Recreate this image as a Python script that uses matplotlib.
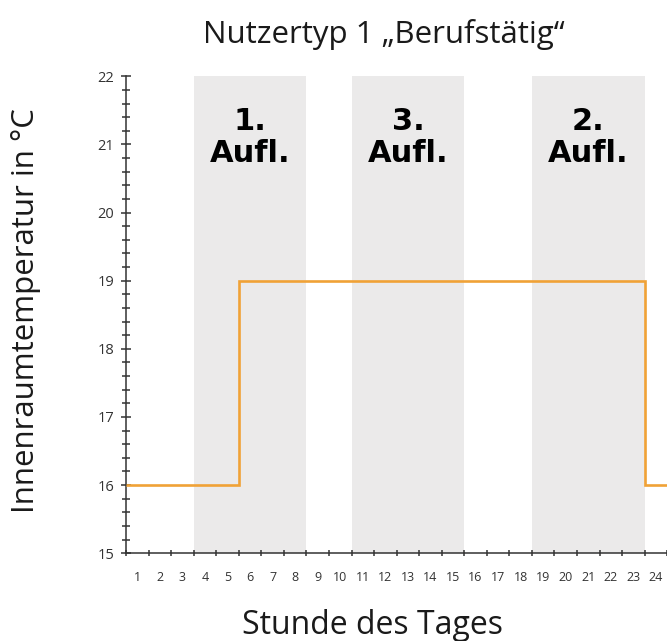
import matplotlib
matplotlib.use("Agg")
import matplotlib.pyplot as plt
from matplotlib.ticker import MultipleLocator, FixedLocator

# Data
hour_labels = [str(h) for h in range(1, 25)]
temps = [16, 16, 16, 16, 16] + [19] * 18 + [16]
bands = [(3, 8, "1.\nAufl."), (10, 15, "3.\nAufl."), (18, 23, "2.\nAufl.")]
title = "Nutzertyp 1 \u201eBerufst\u00e4tig\u201c"

fig = plt.figure(figsize=(6.67, 6.41), dpi=100)
ax = fig.add_axes([0.189, 0.137, 0.812, 0.744])

for s, e, lab in bands:
    ax.axvspan(s, e, color="#ebeaea", lw=0, zorder=0)
    ax.text((s + e) / 2, 21.1, lab, ha="center", va="center",
            fontsize=22, fontweight="bold", family="DejaVu Sans",
            linespacing=1.12, color="#000000")

ax.stairs(temps, edges=range(len(temps) + 1), color="#f0a236", lw=1.9,
          baseline=None, zorder=3)

ax.set_xlim(0, 24.02)
ax.set_ylim(15, 22)

for sp in ["top", "right"]:
    ax.spines[sp].set_visible(False)
for sp in ["left", "bottom"]:
    ax.spines[sp].set_linewidth(1.1)
    ax.spines[sp].set_color("#333333")

ax.xaxis.set_major_locator(FixedLocator(range(0, 25)))
ax.set_xticklabels([""] * 25)
ax.xaxis.set_minor_locator(FixedLocator([i + 0.5 for i in range(24)]))
ax.set_xticklabels(hour_labels, minor=True)
ax.tick_params(axis="x", which="major", direction="inout", length=5, width=1.1, color="#333333")
ax.tick_params(axis="x", which="minor", length=0, labelsize=9, pad=13, labelcolor="#333333")
for t in ax.xaxis.get_minorticklabels():
    t.set_family("Open Sans")

ax.yaxis.set_major_locator(MultipleLocator(1))
ax.yaxis.set_minor_locator(MultipleLocator(0.2))
ax.tick_params(axis="y", which="major", direction="inout", length=7, width=1.1,
               color="#333333", labelsize=10.5, labelcolor="#333333", pad=5)
ax.tick_params(axis="y", which="minor", direction="inout", length=5.5, width=1.1, color="#333333")
for t in ax.yaxis.get_majorticklabels():
    t.set_family("Open Sans")

fig.text(0.576, 0.946, title, ha="center", va="center", fontsize=22.5,
         family="Open Sans", fontweight="medium", color="#1a1a1a")
fig.text(0.039, 0.516, "Innenraumtemperatur in \u00b0C", ha="center", va="center",
         rotation=90, fontsize=22.5, family="Open Sans", fontweight="medium",
         color="#1a1a1a")
fig.text(0.558, 0.024, "Stunde des Tages", ha="center", va="center",
         fontsize=23, family="Open Sans", fontweight="medium", color="#1a1a1a")

fig.savefig("out.png", dpi=100)
